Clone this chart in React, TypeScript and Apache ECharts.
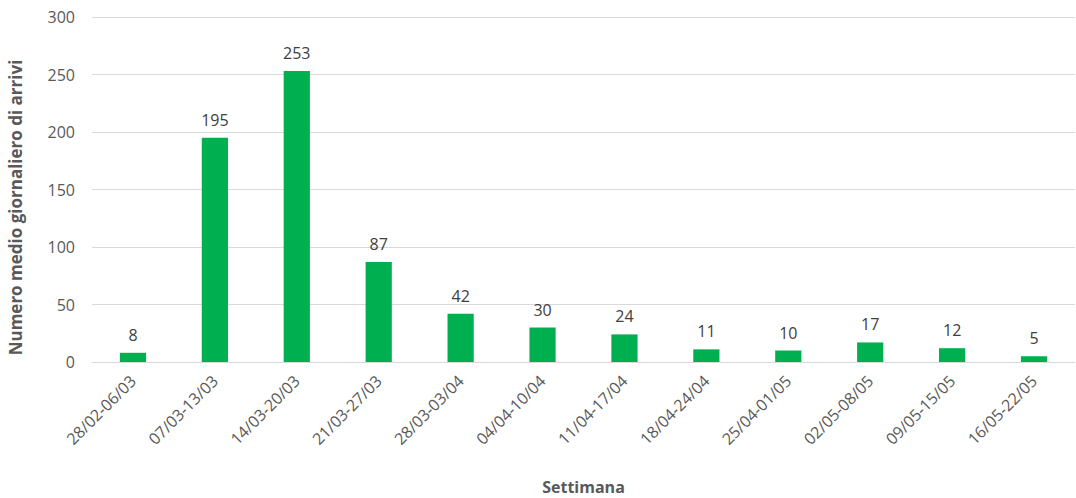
import React, { useEffect, useRef } from "react";
import * as echarts from "echarts";

const categories = [
  "28/02-06/03", "07/03-13/03", "14/03-20/03", "21/03-27/03", "28/03-03/04", "04/04-10/04",
  "11/04-17/04", "18/04-24/04", "25/04-01/05", "02/05-08/05", "09/05-15/05", "16/05-22/05",
];
const values = [8, 195, 253, 87, 42, 30, 24, 11, 10, 17, 12, 5];
const yTicks = { min: 0, max: 300, interval: 50 };

const FONT = "'Open Sans', 'Noto Sans', sans-serif";

export default function App() {
  const ref = useRef<HTMLDivElement>(null);
  useEffect(() => {
    document.body.style.margin = "0";
    const chart = echarts.init(ref.current!, null, { renderer: "svg" });
    chart.setOption({
      animation: false,
      textStyle: { fontFamily: FONT },
      grid: { left: 92, right: 1, top: 17, bottom: 136, containLabel: false, outerBoundsMode: "none" },
      xAxis: {
        type: "category",
        data: categories,
        name: "Settimana",
        nameLocation: "middle",
        nameGap: 117,
        nameTextStyle: { fontFamily: FONT, fontSize: 16, fontWeight: "bold", color: "#595959" },
        axisLine: { show: true, lineStyle: { color: "#d9d9d9", width: 1 } },
        axisTick: { show: false },
        axisLabel: { rotate: 45, fontSize: 16, color: "#595959", fontFamily: FONT, margin: 16, interval: 0 },
      },
      yAxis: {
        type: "value",
        min: yTicks.min,
        max: yTicks.max,
        interval: yTicks.interval,
        name: "Numero medio giornaliero di arrivi",
        nameLocation: "middle",
        nameGap: 68,
        nameTextStyle: { fontFamily: FONT, fontSize: 17, fontWeight: "bold", color: "#595959", padding: [0, 36, 0, 0] },
        axisLine: { show: false },
        axisTick: { show: false },
        axisLabel: { fontSize: 16, color: "#595959", fontFamily: FONT, margin: 17 },
        splitLine: { lineStyle: { color: "#d9d9d9", width: 1 } },
      },
      series: [
        {
          type: "bar",
          data: values,
          barWidth: "32%",
          itemStyle: { color: "#00B050" },
          label: {
            show: true,
            position: "top",
            distance: 10,
            fontSize: 16,
            color: "#404040",
            fontFamily: FONT,
          },
        },
      ],
    });
    return () => chart.dispose();
  }, []);
  return <div ref={ref} style={{ width: 1076, height: 498 }} />;
}
